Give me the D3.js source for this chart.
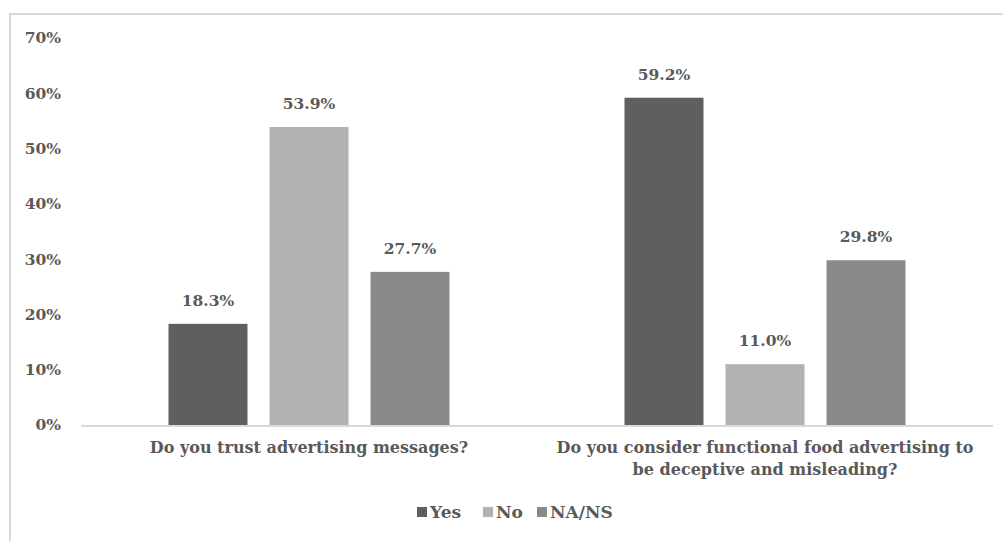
<!DOCTYPE html>
<html>
<head>
<meta charset="utf-8">
<script src="https://cdn.jsdelivr.net/npm/d3@7"></script>
<style>
  body { margin: 0; background: #fff; }
  text { font-family: "DejaVu Serif", serif; font-weight: bold; fill: #595959; }
</style>
</head>
<body>
<svg id="chart" width="1003" height="541"></svg>
<script>
const questions = [
    ["Do you trust advertising messages?"],
    ["Do you consider functional food advertising to", "be deceptive and misleading?"]
];
const seriesNames = ["Yes", "No", "NA/NS"];
const yesValues = [18.3, 59.2];
const noValues = [53.9, 11.0];
const naValues = [27.7, 29.8];
const yTicks = [0, 10, 20, 30, 40, 50, 60, 70];
const colors = ["#5f5f5f", "#b2b2b2", "#8a8a8a"];

const svg = d3.select("#chart");
const margin = { top: 38, right: 10, bottom: 116, left: 81 };
const fontSize = 15.5;

// frame round the chart (only left and top edges show)
svg.append("rect")
    .attr("x", 10).attr("y", 14)
    .attr("width", 1100).attr("height", 547)
    .attr("fill", "none")
    .attr("stroke", "#d9d9d9")
    .attr("stroke-width", 2);

const table = questions.map((q, i) => ({
    q: i,
    label: q,
    values: [yesValues[i], noValues[i], naValues[i]]
}));

const x0 = d3.scaleBand()
    .domain(table.map(d => d.q))
    .range([margin.left, 993]);

const x1 = d3.scaleBand()
    .domain(d3.range(seriesNames.length))
    .range([87.5, x0.bandwidth() - 87.5])
    .paddingInner(0.218);

const y = d3.scaleLinear()
    .domain([0, 70])
    .range([425, margin.top]);

// y tick labels
svg.append("g")
    .selectAll("text")
    .data(yTicks)
    .enter().append("text")
    .attr("x", 61)
    .attr("y", d => y(d))
    .attr("dy", "0.35em")
    .attr("text-anchor", "end")
    .attr("font-size", fontSize)
    .text(d => d + "%");

// bars
const groups = svg.append("g")
    .selectAll("g")
    .data(table)
    .enter().append("g")
    .attr("transform", d => `translate(${x0(d.q)},0)`);

groups.selectAll("rect")
    .data(d => d.values)
    .enter().append("rect")
    .attr("x", (d, i) => x1(i))
    .attr("y", d => y(d))
    .attr("width", x1.bandwidth())
    .attr("height", d => y(0) - y(d))
    .attr("fill", (d, i) => colors[i]);

groups.selectAll(".val")
    .data(d => d.values)
    .enter().append("text")
    .attr("class", "val")
    .attr("x", (d, i) => x1(i) + x1.bandwidth() / 2)
    .attr("y", d => y(d) - 18)
    .attr("text-anchor", "middle")
    .attr("font-size", fontSize)
    .text(d => d.toFixed(1) + "%");

// baseline
svg.append("line")
    .attr("x1", margin.left).attr("x2", 993)
    .attr("y1", y(0) + 1).attr("y2", y(0) + 1)
    .attr("stroke", "#d9d9d9")
    .attr("stroke-width", 2);

// category labels
groups.each(function(d) {
    const t = d3.select(this).append("text")
        .attr("text-anchor", "middle")
        .attr("font-size", 16)
        .attr("y", 453);
    d.label.forEach((line, i) => {
        t.append("tspan")
            .attr("x", x0.bandwidth() / 2)
            .attr("dy", i === 0 ? 0 : 22)
            .text(line);
    });
});

// legend
const legendX = [417, 483, 537];
const legend = svg.append("g")
    .selectAll("g")
    .data(seriesNames)
    .enter().append("g")
    .attr("transform", (d, i) => `translate(${legendX[i]},507)`);

legend.append("rect")
    .attr("width", 10).attr("height", 10)
    .attr("fill", (d, i) => colors[i]);

legend.append("text")
    .attr("x", 13).attr("y", 11)
    .attr("font-size", 17)
    .text(d => d);
</script>
</body>
</html>
